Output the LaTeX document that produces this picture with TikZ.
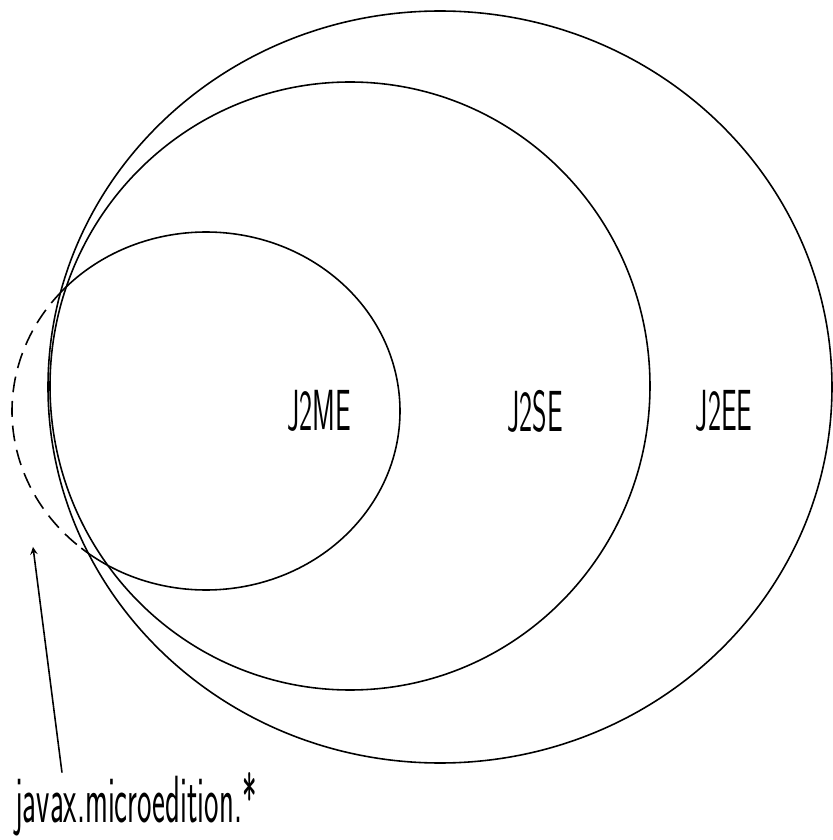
\documentclass[tikz,border=0pt]{standalone}
\usepackage{graphicx}
\usepackage{tikz}
\usetikzlibrary{arrows, calc}

\newcommand{\squeeze}[2]{\scalebox{#1}[1]{#2}}

\begin{document}
\begin{tikzpicture}[
    x=0.02cm, y=0.02cm,
    ring/.style={line width=0.9pt},
    tag/.style={font=\sffamily\fontsize{33}{33}\selectfont, inner sep=0pt},
    pkgtag/.style={font=\sffamily\fontsize{38}{38}\selectfont, inner sep=0pt},
    arrow/.style={line width=0.9pt,->,>=stealth}
  ]
    \useasboundingbox (0,0) rectangle (833,840);

    % centres of the three editions
    \coordinate (ee) at (440,453);
    \coordinate (se) at (350,454);
    \coordinate (me) at (206,429);

    % J2EE and J2SE
    \draw[ring] (ee) ellipse [x radius=392, y radius=376];
    \draw[ring] (se) ellipse [x radius=300, y radius=304];

    % J2ME, dashed where it leaves J2SE
    \draw[ring] (me) ++(230:194 and 179) arc[start angle=230, end angle=498, x radius=194, y radius=179];
    \draw[ring, dash pattern=on 9pt off 5pt] (me) ++(138:194 and 179) arc[start angle=138, end angle=230, x radius=194, y radius=179];

    \node[tag] (mename) at (319,429) {\squeeze{0.48}{J2ME}};
    \node[tag] (sename) at (535,429) {\squeeze{0.48}{J2SE}};
    \node[tag] (eename) at (724,429) {\squeeze{0.48}{J2EE}};

    % package pointer
    \node[pkgtag, anchor=base west] (pkg) at (15,17) {\squeeze{0.46}{javax.microedition.*}};
    \coordinate (tip) at (33,293);
    \draw[arrow] ([xshift=0.94cm]pkg.north west) -- (tip);
  \end{tikzpicture}
\end{document}
